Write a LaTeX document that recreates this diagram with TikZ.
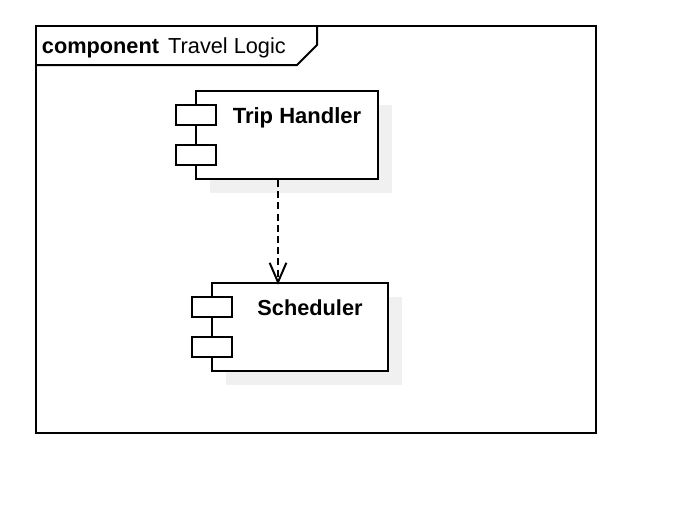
\documentclass[tikz,border=0pt]{standalone}
\usepackage{fontspec}
\setmainfont{Liberation Sans}
\usepackage{tikz}
\usetikzlibrary{arrows.meta}

\tikzset{
    main_box/.style={rectangle,draw=black,fill=white,line width=1.5pt,inner sep=0pt,minimum height=66pt},
    shadow_box/.style={rectangle,fill=black!6,inner sep=0pt,minimum height=66pt},
    port_box/.style={rectangle,draw=black,fill=white,line width=1.5pt,inner sep=0pt,minimum width=30pt,minimum height=15pt},
    label_text/.style={inner sep=0pt,anchor=base,font=\fontsize{16.3}{18}\selectfont},
    frame_line/.style={line width=1.5pt,line join=miter},
    depend_line/.style={line width=1.5pt,dash pattern=on 5.2pt off 3.2pt,shorten >=-2pt,-{Straight Barb[length=14.5pt,width=12.5pt,line width=1.5pt]}}
}

\begin{document}
\begin{tikzpicture}[x=0.75pt,y=-0.75pt]
    \useasboundingbox (0,0) rectangle (674,508);

    % frame
    \node[rectangle,draw=black,fill=white,frame_line,inner sep=0pt,minimum width=420pt,minimum height=305.25pt] (frame) at (316,229.5) {};
    \coordinate (tab_a) at (36,65);
    \coordinate (tab_b) at (297,65);
    \coordinate (tab_c) at (317,45);
    \coordinate (tab_d) at (317,26);
    \draw[frame_line] (tab_a) -- (tab_b) -- (tab_c) -- (tab_d);
    \node[label_text,font=\fontsize{16.3}{18}\selectfont\bfseries] (frame_kind) at (100.5,53) {component};
    \node[label_text] (frame_name) at (227,53) {Travel Logic};

    % shadows
    \node[shadow_box,minimum width=136.5pt] (trip_shadow) at (301,149) {};
    \node[shadow_box,minimum width=132pt] (sched_shadow) at (314,341) {};

    % components
    \node[main_box,minimum width=136.5pt] (trip_handler) at (287,135) {};
    \node[port_box] (trip_port_a) at (196,115) {};
    \node[port_box] (trip_port_b) at (196,155) {};
    \draw[line width=1.5pt] (trip_port_a) -- (trip_port_b);
    \node[label_text,font=\fontsize{16.5}{18}\selectfont\bfseries] (trip_label) at (297,123) {Trip Handler};

    \node[main_box,minimum width=132pt] (scheduler) at (300,327) {};
    \node[port_box] (sched_port_a) at (212,307) {};
    \node[port_box] (sched_port_b) at (212,347) {};
    \draw[line width=1.5pt] (sched_port_a) -- (sched_port_b);
    \node[label_text,font=\fontsize{16.3}{18}\selectfont\bfseries] (sched_label) at (310,315) {Scheduler};

    % dependency
    \coordinate (dep_x) at (278,230);
    \draw[depend_line] (dep_x |- trip_handler.south) -- (dep_x |- scheduler.north);
\end{tikzpicture}
\end{document}
